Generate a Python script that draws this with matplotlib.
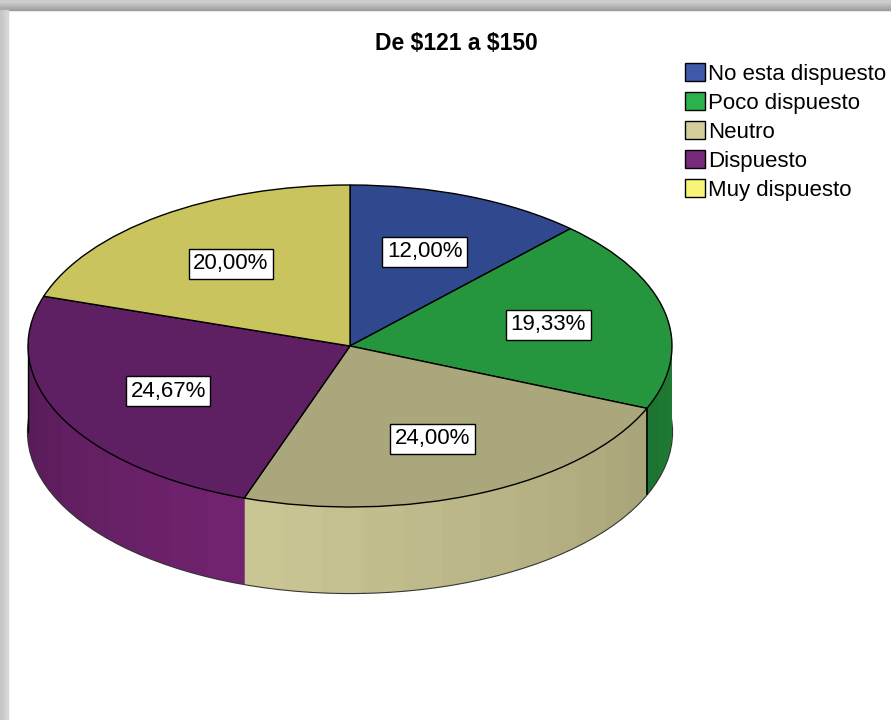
import matplotlib
matplotlib.use('Agg')
import matplotlib.pyplot as plt
import numpy as np
from matplotlib.patches import Patch, Ellipse, Rectangle
from matplotlib.colors import to_rgb

# Data
categories = ['No esta dispuesto', 'Poco dispuesto', 'Neutro', 'Dispuesto', 'Muy dispuesto']
percentages = [12.00, 19.33, 24.00, 24.67, 20.00]

top_colors = ['#30498e', '#26963e', '#aba77c', '#5f1f63', '#c9c45e']
# side shading: colour at start / end of each slice (clockwise)
side_start = ['#2a3f7c', '#23903b', '#a9a57a', '#72236f', '#a8a44c']
side_end = ['#2a3f7c', '#1d7431', '#cac694', '#4e1a50', '#a8a44c']
legend_colors = ['#3e5aa8', '#2bb24c', '#d4cf9a', '#782a7c', '#f8f477']

plt.rcParams['font.family'] = ['Liberation Sans', 'DejaVu Sans']

W, H = 891, 720
fig = plt.figure(figsize=(W / 100, H / 100), dpi=100)
fig.patch.set_facecolor('white')

# window shadow (top and left edges)
for i, c in enumerate(['#9e9e9e', '#aaaaaa', '#b6b6b6', '#c2c2c2', '#cdcdcd']):
    fig.add_artist(Rectangle((0, 1 - (10 - 2 * i) / H), 1, 2 / H, color=c,
                             transform=fig.transFigure, zorder=0))
for i, c in enumerate(['#c6c6c6', '#cacaca', '#cfcfcf', '#d6d6d6']):
    fig.add_artist(Rectangle((2 * i / W, 0), 2 / W, 1 - 10 / H, color=c,
                             transform=fig.transFigure, zorder=0))

ax = fig.add_axes([0, 0, 1, 1])
ax.set_axis_off()

# ellipse squash: 1 px horizontally == 1 unit, 1 px vertically == 2 units
cx, cy_px, r = 350, 346, 322
thick_px = 86
cy = 2 * (H - cy_px)
thick = 2 * thick_px

# side walls: stacked pies shifted down, each slice split for shading
n_sub = 12
sub_vals, sub_cols = [], []
for v, c0, c1 in zip(percentages, side_start, side_end):
    a, b = np.array(to_rgb(c0)), np.array(to_rgb(c1))
    for k in range(n_sub):
        t = k / (n_sub - 1)
        sub_vals.append(v / n_sub)
        sub_cols.append(tuple(a * (1 - t) + b * t))

ax.add_patch(Ellipse((cx, cy - thick), 2 * r, 2 * r, facecolor='none',
                     edgecolor='#333333', lw=1.6, zorder=1))
for off in np.arange(thick, 0, -2):
    ax.pie(sub_vals, colors=sub_cols, startangle=90, counterclock=False,
           center=(cx, cy - off), radius=r,
           wedgeprops=dict(linewidth=0.6, edgecolor=None, zorder=2))

# edge lines on the side
bounds = 90 - np.cumsum(percentages) * 3.6
ang = np.radians(bounds[1])
bx = cx + r * np.cos(ang)
by = cy + r * np.sin(ang)
ax.plot([bx, bx], [by, by - thick], color='black', lw=1.2, zorder=4)
ax.plot([cx - r, cx - r], [cy, cy - thick], color='black', lw=1.0, zorder=4)

# top surface
wedges, texts, autotexts = ax.pie(
    percentages, colors=top_colors, startangle=90, counterclock=False,
    center=(cx, cy), radius=r,
    autopct=lambda p: f'{p:.2f}%'.replace('.', ','), pctdistance=0.63,
    wedgeprops=dict(linewidth=1.0, edgecolor='black', zorder=5),
    textprops=dict(fontsize=16, color='black', zorder=6))
for t in autotexts:
    t.set_zorder(7)
    t.set_bbox(dict(facecolor='white', edgecolor='black', linewidth=1.0,
                    boxstyle='square,pad=0.2'))

ax.set_aspect('auto')
ax.set_xlim(0, W)
ax.set_ylim(0, 2 * H)

fig.text(456 / W, 1 - 43 / H, r'De \$121 a \$150', ha='center', va='center',
         fontsize=16.5, fontweight='bold',
         family=['Liberation Sans Narrow', 'Liberation Sans', 'DejaVu Sans'])

handles = [Patch(facecolor=c, edgecolor='black', linewidth=1.0) for c in legend_colors]
fig.legend(handles, categories, loc='upper left', bbox_to_anchor=(685 / W, 1 - 63 / H),
           frameon=False, fontsize=16, handlelength=0.9, handleheight=0.9,
           handletextpad=0.15, labelspacing=0.32, borderpad=0, borderaxespad=0)

fig.savefig('out.png', dpi=100, facecolor='white')
